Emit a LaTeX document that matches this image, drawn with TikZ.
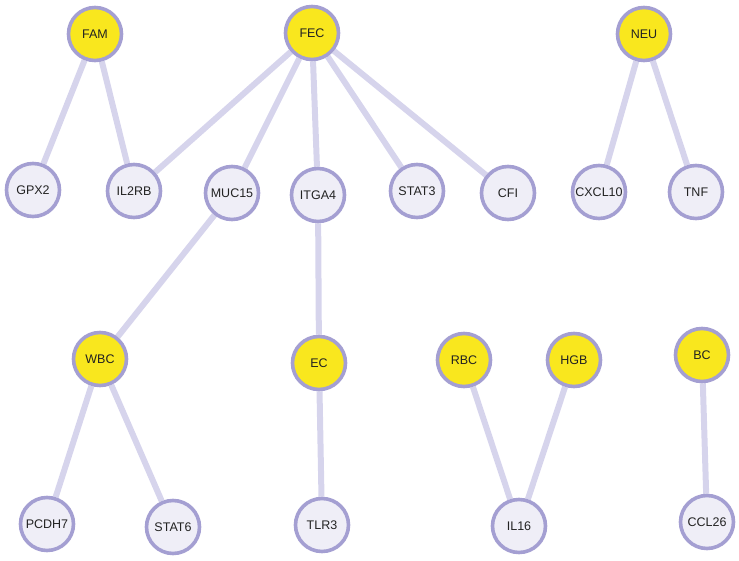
\documentclass[tikz,border=0pt]{standalone}
\usepackage{fontspec}
\setmainfont{Liberation Sans}
\usetikzlibrary{backgrounds}
\definecolor{Ring}{HTML}{A49FD2}
\definecolor{Edge}{HTML}{D6D4EC}
\definecolor{Gene}{HTML}{EFEEF7}
\definecolor{Trait}{HTML}{F9E71E}
\definecolor{Ink}{HTML}{222222}
\tikzset{
    gene/.style={circle, draw=Ring, line width=3.6pt, fill=Gene, minimum size=53pt, inner sep=0pt, text=Ink, font=\fontsize{12.5}{14}\selectfont},
    trait/.style={gene, fill=Trait},
    link/.style={draw=Edge, line width=6pt},
}
\begin{document}
\begin{tikzpicture}[x=1pt, y=-1pt]
    \useasboundingbox (0,0) rectangle (739,561);

    % clinical traits
    \node[trait] (FAM) at (95,34) {FAM};
    \node[trait] (FEC) at (312,33) {FEC};
    \node[trait] (NEU) at (644,34) {NEU};
    \node[trait] (WBC) at (100,359) {WBC};
    \node[trait] (EC) at (319,363) {EC};
    \node[trait] (RBC) at (464,360) {RBC};
    \node[trait] (HGB) at (574,360) {HGB};
    \node[trait] (BC) at (702,355) {BC};

    % genes
    \node[gene] (GPX2) at (33,190) {GPX2};
    \node[gene] (IL2RB) at (134,191) {IL2RB};
    \node[gene] (MUC15) at (232,193) {MUC15};
    \node[gene] (ITGA4) at (318,195) {ITGA4};
    \node[gene] (STAT3) at (417,191) {STAT3};
    \node[gene] (CFI) at (508,193) {CFI};
    \node[gene] (CXCL10) at (599,192) {CXCL10};
    \node[gene] (TNF) at (696,192) {TNF};
    \node[gene] (PCDH7) at (47,524) {PCDH7};
    \node[gene] (STAT6) at (173,527) {STAT6};
    \node[gene] (TLR3) at (322,525) {TLR3};
    \node[gene] (IL16) at (519,526) {IL16};
    \node[gene] (CCL26) at (707,522) {CCL26};

    % links behind the circles
    \begin{scope}[on background layer]
        \foreach \a/\b in {FAM/GPX2, FAM/IL2RB, FEC/IL2RB, FEC/MUC15, FEC/ITGA4, FEC/STAT3, FEC/CFI,
                           NEU/CXCL10, NEU/TNF, MUC15/WBC, ITGA4/EC, WBC/PCDH7, WBC/STAT6,
                           EC/TLR3, RBC/IL16, HGB/IL16, BC/CCL26}
            \draw[link] (\a) -- (\b);
    \end{scope}
\end{tikzpicture}
\end{document}
